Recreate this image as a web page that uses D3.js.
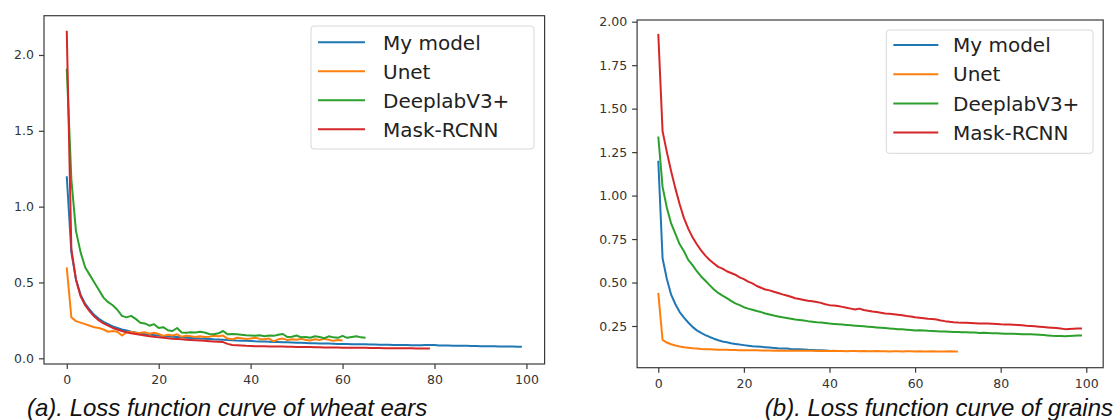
<!DOCTYPE html>
<html>
<head>
<meta charset="utf-8">
<script src="https://cdn.jsdelivr.net/npm/d3@7"></script>
<style>
  html, body { margin: 0; padding: 0; background: #fff; }
  svg { display: block; }
</style>
</head>
<body>
<svg id="chart" width="1118" height="420"></svg>
<script>
// ---------- data ----------
const seriesNames = ["My model", "Unet", "DeeplabV3+", "Mask-RCNN"];
const seriesColors = ["#1f77b4", "#ff7f0e", "#2ca02c", "#d62728"];

const xTicks = [0, 20, 40, 60, 80, 100];
const wheatYTicks = [0.0, 0.5, 1.0, 1.5, 2.0];
const grainsYTicks = [0.25, 0.50, 0.75, 1.00, 1.25, 1.50, 1.75, 2.00];

const captionA = "(a). Loss function curve of wheat ears";
const captionB = "(b). Loss function curve of grains";

const wheatMyModel = [1.20,0.70,0.52,0.42,0.36,0.32,0.285,0.26,0.24,0.225,
0.21,0.20,0.19,0.183,0.176,0.17,0.165,0.16,0.157,0.153,
0.15,0.147,0.145,0.142,0.14,0.138,0.136,0.134,0.132,0.13,
0.129,0.127,0.125,0.124,0.122,0.12,0.119,0.117,0.116,0.115,
0.114,0.112,0.111,0.11,0.109,0.108,0.107,0.106,0.105,0.104,
0.103,0.102,0.101,0.10,0.099,0.098,0.097,0.097,0.096,0.095,
0.094,0.094,0.093,0.093,0.092,0.092,0.091,0.091,0.090,0.089,
0.089,0.088,0.088,0.087,0.087,0.086,0.086,0.086,0.087,0.088,
0.087,0.085,0.084,0.084,0.083,0.083,0.082,0.082,0.081,0.081,
0.080,0.080,0.079,0.079,0.078,0.078,0.077,0.077,0.076,0.076];

const wheatUnet = [0.60,0.27,0.245,0.235,0.225,0.215,0.205,0.20,0.19,0.175,
0.18,0.175,0.15,0.17,0.175,0.165,0.168,0.172,0.162,0.168,
0.16,0.148,0.155,0.15,0.158,0.142,0.148,0.145,0.14,0.145,
0.14,0.142,0.148,0.145,0.15,0.13,0.125,0.135,0.132,0.128,
0.13,0.135,0.128,0.125,0.13,0.112,0.125,0.13,0.12,0.125,
0.122,0.128,0.12,0.118,0.125,0.12,0.128,0.122,0.115,0.12,
0.118];

const wheatDeeplab = [1.91,1.18,0.84,0.70,0.60,0.55,0.50,0.45,0.40,0.37,
0.35,0.32,0.28,0.27,0.28,0.26,0.235,0.23,0.215,0.225,
0.20,0.205,0.185,0.18,0.20,0.17,0.168,0.172,0.17,0.175,
0.17,0.16,0.158,0.165,0.18,0.158,0.16,0.158,0.155,0.152,
0.15,0.148,0.152,0.145,0.15,0.148,0.155,0.16,0.14,0.142,
0.15,0.138,0.14,0.135,0.145,0.14,0.132,0.145,0.138,0.135,
0.148,0.135,0.14,0.145,0.138,0.135];

const wheatMask = [2.16,0.72,0.52,0.41,0.35,0.31,0.275,0.25,0.23,0.215,
0.20,0.19,0.18,0.172,0.165,0.16,0.155,0.15,0.146,0.142,
0.138,0.135,0.132,0.129,0.127,0.125,0.123,0.121,0.119,0.117,
0.115,0.113,0.111,0.109,0.107,0.095,0.088,0.086,0.084,0.082,
0.081,0.080,0.079,0.079,0.078,0.078,0.077,0.077,0.076,0.076,
0.075,0.075,0.074,0.074,0.073,0.073,0.072,0.072,0.071,0.071,
0.070,0.070,0.070,0.069,0.069,0.069,0.068,0.068,0.068,0.067,
0.067,0.067,0.066,0.066,0.066,0.066,0.065,0.065,0.065,0.065];

const grainsMyModel = [1.20,0.64,0.52,0.43,0.375,0.33,0.298,0.27,0.245,0.225,
0.21,0.198,0.187,0.177,0.168,0.161,0.156,0.151,0.147,0.143,
0.14,0.137,0.134,0.132,0.13,0.128,0.126,0.124,0.122,0.121,
0.12,0.118,0.117,0.116,0.115,0.113,0.112,0.111,0.11,0.109,
0.108];

const grainsUnet = [0.44,0.17,0.155,0.145,0.138,0.132,0.128,0.125,0.122,0.12,
0.118,0.117,0.116,0.115,0.114,0.113,0.113,0.112,0.112,0.111,
0.111,0.110,0.110,0.110,0.109,0.109,0.109,0.108,0.109,0.108,
0.108,0.108,0.107,0.108,0.107,0.107,0.107,0.106,0.107,0.106,
0.106,0.107,0.106,0.106,0.105,0.106,0.106,0.105,0.106,0.105,
0.105,0.106,0.105,0.105,0.104,0.105,0.105,0.104,0.105,0.105,
0.104,0.105,0.104,0.104,0.105,0.104,0.104,0.104,0.105,0.104,
0.104];

const grainsDeeplab = [1.34,1.05,0.93,0.84,0.78,0.72,0.68,0.63,0.60,0.565,
0.535,0.51,0.485,0.46,0.44,0.425,0.41,0.395,0.38,0.37,
0.358,0.35,0.343,0.336,0.33,0.322,0.316,0.31,0.305,0.30,
0.296,0.292,0.288,0.285,0.282,0.278,0.275,0.272,0.27,0.267,
0.264,0.262,0.26,0.258,0.256,0.254,0.252,0.25,0.248,0.246,
0.244,0.242,0.24,0.238,0.236,0.234,0.232,0.231,0.229,0.227,
0.224,0.226,0.224,0.222,0.221,0.22,0.219,0.218,0.217,0.216,
0.215,0.214,0.214,0.213,0.212,0.21,0.211,0.21,0.209,0.208,
0.207,0.206,0.206,0.205,0.204,0.203,0.203,0.202,0.201,0.20,
0.198,0.196,0.194,0.193,0.192,0.191,0.193,0.194,0.195,0.195];

const grainsMask = [1.93,1.37,1.25,1.14,1.04,0.95,0.87,0.81,0.76,0.72,
0.685,0.655,0.63,0.61,0.59,0.58,0.565,0.555,0.545,0.53,
0.52,0.505,0.495,0.48,0.47,0.46,0.455,0.447,0.44,0.432,
0.425,0.418,0.41,0.405,0.40,0.395,0.392,0.388,0.383,0.375,
0.37,0.368,0.365,0.36,0.355,0.35,0.345,0.35,0.342,0.338,
0.333,0.33,0.326,0.322,0.32,0.318,0.315,0.312,0.308,0.305,
0.30,0.298,0.295,0.292,0.29,0.287,0.282,0.278,0.275,0.272,
0.27,0.269,0.268,0.267,0.266,0.265,0.265,0.264,0.263,0.262,
0.26,0.259,0.258,0.257,0.256,0.255,0.252,0.25,0.248,0.246,
0.244,0.242,0.24,0.238,0.236,0.232,0.233,0.234,0.235,0.236];

// ---------- drawing ----------
const svg = d3.select("#chart");
const tickFont = "'DejaVu Sans', sans-serif";
const axisColor = "#3a3a3a";

function drawPanel(cfg) {
  const x = d3.scaleLinear().domain(cfg.xDomain).range([cfg.left, cfg.right]);
  const y = d3.scaleLinear().domain(cfg.yDomain).range([cfg.bottom, cfg.top]);
  const g = svg.append("g");

  // lines
  const line = d3.line().x((d, i) => x(i)).y(d => y(d));
  cfg.series.forEach((s, k) => {
    g.append("path")
      .datum(s)
      .attr("fill", "none")
      .attr("stroke", seriesColors[k])
      .attr("stroke-width", 2)
      .attr("stroke-linejoin", "round")
      .attr("stroke-linecap", "butt")
      .attr("d", line);
  });

  // frame (spines)
  g.append("rect")
    .attr("x", cfg.left).attr("y", cfg.top)
    .attr("width", cfg.right - cfg.left).attr("height", cfg.bottom - cfg.top)
    .attr("fill", "none").attr("stroke", axisColor).attr("stroke-width", 1.2);

  // axes
  const xa = g.append("g").attr("transform", `translate(0,${cfg.bottom})`)
    .call(d3.axisBottom(x).tickValues(xTicks).tickFormat(d3.format("d")).tickSize(5).tickPadding(6));
  const ya = g.append("g").attr("transform", `translate(${cfg.left},0)`)
    .call(d3.axisLeft(y).tickValues(cfg.yTicks).tickFormat(d3.format(cfg.yFormat)).tickSize(5).tickPadding(5));
  [xa, ya].forEach(a => {
    a.select(".domain").remove();
    a.selectAll("line").attr("stroke", axisColor).attr("stroke-width", 1.2);
    a.selectAll("text").attr("fill", "#333").style("font-family", tickFont).style("font-size", "12.5px");
  });

  // legend
  const L = cfg.legend;
  const lg = g.append("g");
  lg.append("rect")
    .attr("x", L.x).attr("y", L.y).attr("width", L.w).attr("height", L.h)
    .attr("rx", 3).attr("fill", "#fff").attr("fill-opacity", 0.8)
    .attr("stroke", "#d8d8d8").attr("stroke-width", 1);
  seriesNames.forEach((name, k) => {
    const ry = L.y + L.row0 + k * L.step;
    lg.append("line")
      .attr("x1", L.x + 7).attr("x2", L.x + 7 + L.lineLen)
      .attr("y1", ry).attr("y2", ry)
      .attr("stroke", seriesColors[k]).attr("stroke-width", 2);
    lg.append("text")
      .attr("x", L.x + L.textOff).attr("y", ry + 7.2)
      .attr("fill", "#222")
      .style("font-family", tickFont).style("font-size", "20px")
      .text(name);
  });
}

drawPanel({
  left: 44, right: 544.6, top: 15.7, bottom: 364,
  xDomain: [-4.95, 103.95], yDomain: [-0.0376, 2.259],
  yTicks: wheatYTicks, yFormat: ".1f",
  series: [wheatMyModel, wheatUnet, wheatDeeplab, wheatMask],
  legend: { x: 311, y: 26, w: 223, h: 123, row0: 16.3, step: 29, lineLen: 47, textOff: 72 }
});

drawPanel({
  left: 637.1, right: 1103.2, top: 20, bottom: 367.7,
  xDomain: [-4.95, 103.95], yDomain: [0.0102, 2.0098],
  yTicks: grainsYTicks, yFormat: ".2f",
  series: [grainsMyModel, grainsUnet, grainsDeeplab, grainsMask],
  legend: { x: 886.3, y: 30, w: 206.7, h: 123.3, row0: 15, step: 29.2, lineLen: 45, textOff: 66.7 }
});

// captions
const capFont = "'Liberation Sans', Arial, sans-serif";
svg.append("text").attr("x", 27).attr("y", 416)
  .style("font-family", capFont).style("font-style", "italic").style("font-size", "24px")
  .attr("fill", "#111").text(captionA);
svg.append("text").attr("x", 1113).attr("y", 416).attr("text-anchor", "end")
  .style("font-family", capFont).style("font-style", "italic").style("font-size", "24px")
  .attr("fill", "#111").text(captionB);
</script>
</body>
</html>
